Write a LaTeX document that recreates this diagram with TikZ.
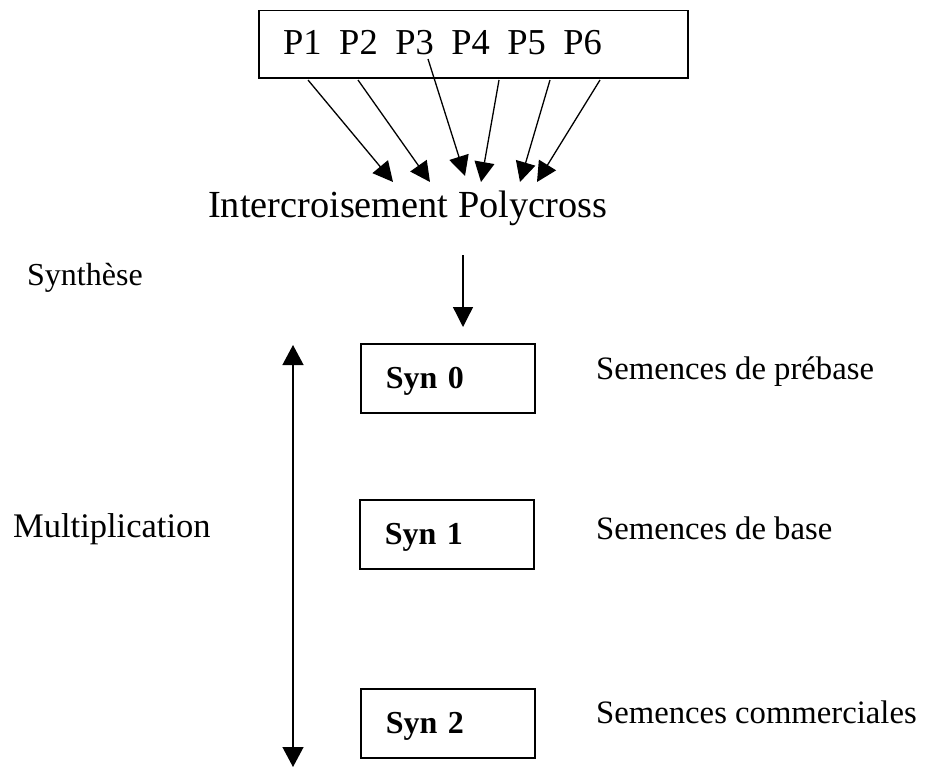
\documentclass[tikz,border=0pt]{standalone}
\usepackage{fontspec}
\setmainfont{Liberation Serif}
\usetikzlibrary{arrows.meta}
\newcommand{\widespaces}{\spaceskip=17.5pt\relax}
\begin{document}
\begin{tikzpicture}[x=1pt,y=-1pt,
  frame/.style={draw, line width=1.5pt, rectangle, anchor=north west},
  synbox/.style={frame, minimum width=174pt, minimum height=69pt,
    inner xsep=25pt, inner ysep=0pt, text width=124pt, align=left,
    text height=20pt, text depth=0pt,
    font=\fontsize{32}{36}\selectfont\bfseries},
  lbl/.style={anchor=base west, inner sep=0pt, font=\fontsize{32.7}{38}\selectfont},
  arr/.style={line width=1.3pt, -{Triangle[length=20pt,width=20pt]}},
  dblarr/.style={line width=1.3pt, {Triangle[length=20pt,width=21pt]}-{Triangle[length=20pt,width=21pt]}},
]
\useasboundingbox (0,0) rectangle (925,768);

% parent lines
\node[frame, minimum width=429pt, minimum height=67pt] (parents) at (258,10) {};
\node[anchor=base west, inner sep=0pt, font=\fontsize{36.5}{40}\selectfont] (plist) at (283,55)
  {\widespaces P1 P2 P3 P4 P5 P6};

% polycross
\node[anchor=base west, inner sep=0pt, font=\fontsize{38.3}{42}\selectfont] (inter) at (208,217)
  {Intercroisement Polycross};

% arrows from each parent into the polycross
\coordinate (a1) at (308,80);  \coordinate (b1) at (393,182);
\coordinate (a2) at (358,80);  \coordinate (b2) at (430,182);
\coordinate (a3) at (428,59);  \coordinate (b3) at (465,176);
\coordinate (a4) at (499,80);  \coordinate (b4) at (481,182);
\coordinate (a5) at (550,80);  \coordinate (b5) at (520,182);
\coordinate (a6) at (600,80);  \coordinate (b6) at (537,182);
\foreach \i in {1,...,6} \draw[arr] (a\i) -- (b\i);

% synthesis step
\node[lbl, font=\fontsize{32}{36}\selectfont] (synth) at (27,285) {Synthèse};
\coordinate (d0) at (463,255);
\coordinate (d1) at (463,327);
\draw[arr] (d0) -- (d1);

% generations
\node[synbox] (syn0) at (360,343) {Syn 0};
\node[synbox] (syn1) at (359,499) {Syn 1};
\node[synbox] (syn2) at (360,688) {Syn 2};

\node[lbl] (prebase) at (596,379) {Semences de prébase};
\node[lbl] (base) at (596,539) {Semences de base};
\node[lbl] (comm) at (596,723) {Semences commerciales};

% multiplication axis
\node[lbl, font=\fontsize{34.5}{40}\selectfont] (mult) at (13,537) {Multiplication};
\coordinate (mtop) at (293,345);
\coordinate (mbot) at (293,767);
\draw[dblarr] (mtop) -- (mbot);
\end{tikzpicture}
\end{document}
